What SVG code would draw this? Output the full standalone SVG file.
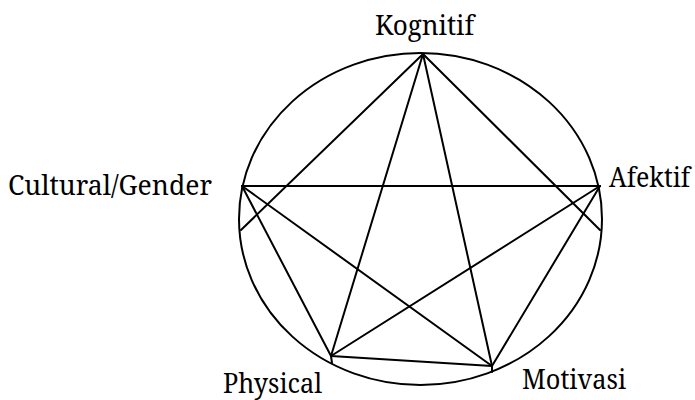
<svg xmlns="http://www.w3.org/2000/svg" width="695" height="400" viewBox="0 0 695 400">
<style>
.e{fill:none;stroke:#000;stroke-width:2}
.l{stroke:#000;stroke-width:2;stroke-linecap:round;fill:none}
.t{font-family:"Noto Serif","DejaVu Serif","Liberation Serif",serif;font-size:27px;fill:#000}
</style>
<rect width="695" height="400" fill="#fff"/>
<g id="circle"><ellipse class="e" cx="420.5" cy="219" rx="181.5" ry="166"/></g>
<g id="connectors">
<line class="l" x1="423" y1="54" x2="241" y2="230"/>
<line class="l" x1="423" y1="54" x2="600" y2="230"/>
<line class="l" x1="423" y1="54" x2="331" y2="356"/>
<line class="l" x1="423" y1="54" x2="492" y2="366"/>
<line class="l" x1="242" y1="186" x2="600" y2="186"/>
<line class="l" x1="242" y1="186" x2="331" y2="356"/>
<line class="l" x1="242" y1="186" x2="492" y2="366"/>
<line class="l" x1="600" y1="186" x2="331" y2="356"/>
<line class="l" x1="600" y1="186" x2="492" y2="366"/>
<line class="l" x1="331" y1="356" x2="492" y2="366"/>
<line class="l" x1="331" y1="356" x2="332" y2="363"/>
<line class="l" x1="492" y1="366" x2="492" y2="372"/>
</g>
<g id="kognitif"><text class="t" x="375" y="35" textLength="99" lengthAdjust="spacingAndGlyphs">Kognitif</text></g>
<g id="cultural"><text class="t" x="8" y="195" textLength="204" lengthAdjust="spacingAndGlyphs">Cultural/Gender</text></g>
<g id="afektif"><text class="t" x="609" y="187" textLength="81" lengthAdjust="spacingAndGlyphs">Afektif</text></g>
<g id="physical"><text class="t" x="223" y="393" textLength="99" lengthAdjust="spacingAndGlyphs">Physical</text></g>
<g id="motivasi"><text class="t" x="522" y="389" textLength="104" lengthAdjust="spacingAndGlyphs">Motivasi</text></g>
</svg>
